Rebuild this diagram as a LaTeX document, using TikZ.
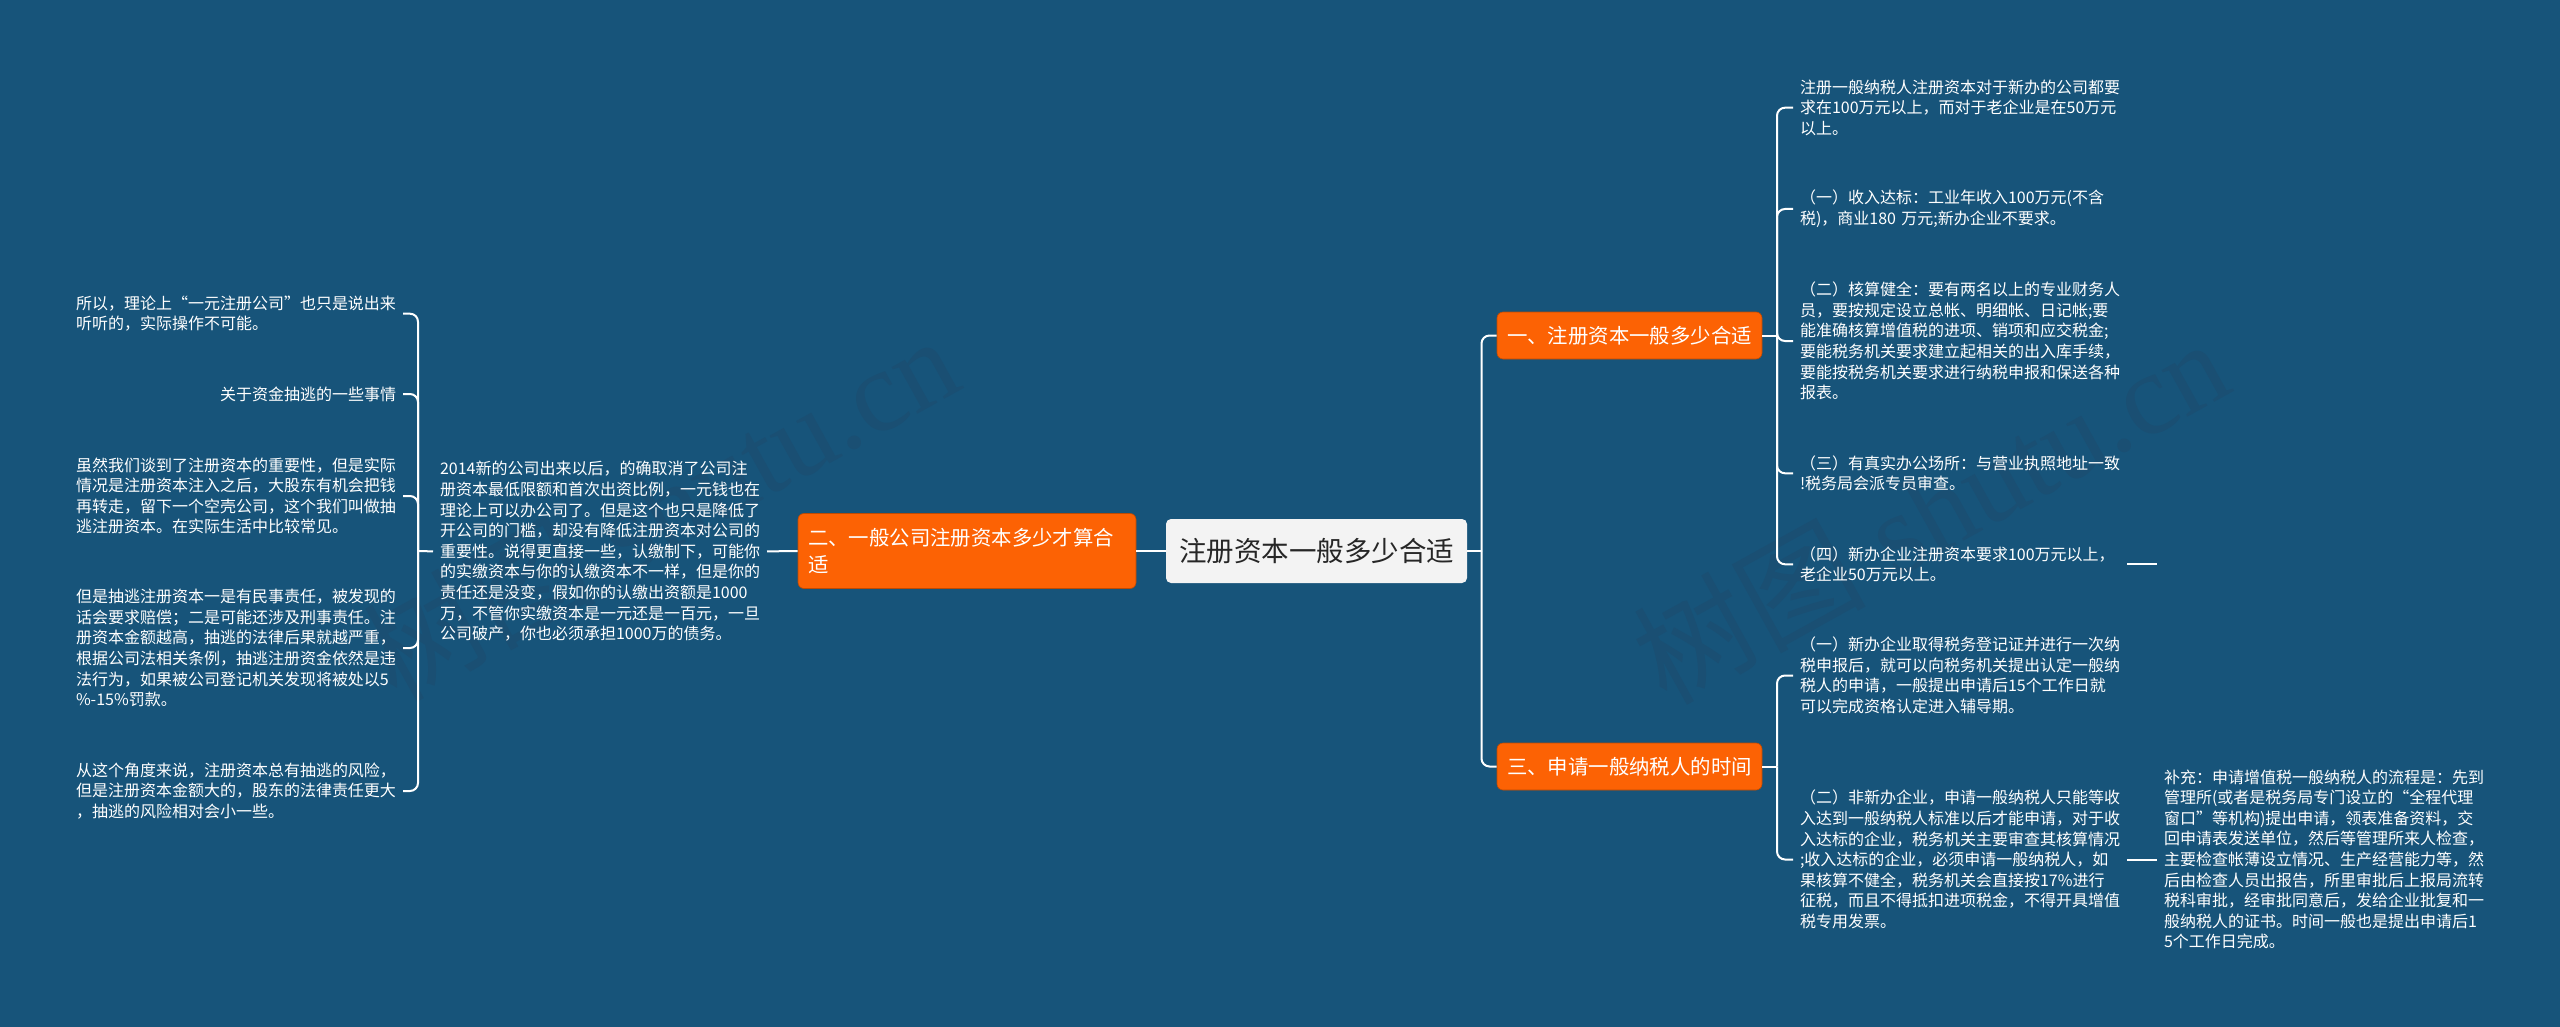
\documentclass[tikz,border=0pt]{standalone}
\usepackage{fontspec}
\usepackage{xcolor}
\usepackage{tikz}
\setmainfont{Noto Sans CJK SC}
\newfontfamily\markfont{Liberation Serif}
\newfontfamily\markcjk{Noto Sans CJK SC}
\definecolor{bgblue}{HTML}{17547A}
\definecolor{boxorange}{HTML}{FC6204}
\definecolor{rootgray}{HTML}{F3F3F3}
\definecolor{markblue}{HTML}{1A4F73}
\tikzset{>=latex}
\tikzstyle{link} = [-, draw=white, line width=2pt, rounded corners=8pt]
\tikzstyle{rootbox} = [rectangle, fill=rootgray, rounded corners=5pt, minimum width=301pt, minimum height=64pt, inner sep=0pt, text=black!85, font=\fontsize{27.5}{33}\selectfont]
\tikzstyle{headbox} = [rectangle, fill=boxorange, draw=boxorange!75!black, line width=0.6pt, rounded corners=6pt, text=white, inner sep=0pt, font=\fontsize{20.4}{26.4}\selectfont]
\tikzstyle{note} = [rectangle, inner sep=0pt, outer sep=7pt, text=white, text width=320pt, align=left, font=\fontsize{16}{20.6}\selectfont]
\tikzstyle{wmark} = [text=markblue, rotate=29, inner sep=0pt, font=\markfont\fontsize{116}{116}\selectfont]
\begin{document}
\begin{tikzpicture}[x=1pt, y=-1pt]
\useasboundingbox [fill=bgblue] (0, 0) rectangle (2560, 1027);
% watermarks
\node [wmark] (markleft) at (660, 507) {\markcjk 树图\markfont\ shutu.cn};
\node [wmark] (markright) at (1930, 510) {\markcjk 树图\markfont\ shutu.cn};
% centre and the three heads
\node [rootbox] (root) at (1316.5, 551) {注册资本一般多少合适};
\node [headbox, minimum width=338pt, minimum height=75pt, text width=318pt, align=left] (headtwo) at (967, 551) {二、一般公司注册资本多少才算合\\适};
\node [headbox, minimum width=265pt, minimum height=47pt] (headone) at (1629.5, 335.5) {一、注册资本一般多少合适};
\node [headbox, minimum width=265pt, minimum height=47pt] (headthree) at (1629.5, 766.5) {三、申请一般纳税人的时间};
% left side
\node [note] (mid) at (600, 551.4) {2014新的公司出来以后，的确取消了公司注\\册资本最低限额和首次出资比例，一元钱也在\\理论上可以办公司了。但是这个也只是降低了\\开公司的门槛，却没有降低注册资本对公司的\\重要性。说得更直接一些，认缴制下，可能你\\的实缴资本与你的认缴资本不一样，但是你的\\责任还是没变，假如你的认缴出资额是1000\\万，不管你实缴资本是一元还是一百元，一旦\\公司破产，你也必须承担1000万的债务。};
\node [note] (leftone) at (236, 313.7) {所以，理论上“一元注册公司”也只是说出来\\听听的，实际操作不可能。};
\node [note, align=right] (lefttwo) at (236, 394) {关于资金抽逃的一些事情};
\node [note] (leftthree) at (236, 496) {虽然我们谈到了注册资本的重要性，但是实际\\情况是注册资本注入之后，大股东有机会把钱\\再转走，留下一个空壳公司，这个我们叫做抽\\逃注册资本。在实际生活中比较常见。};
\node [note] (leftfour) at (236, 648) {但是抽逃注册资本一是有民事责任，被发现的\\话会要求赔偿；二是可能还涉及刑事责任。注\\册资本金额越高，抽逃的法律后果就越严重，\\根据公司法相关条例，抽逃注册资金依然是违\\法行为，如果被公司登记机关发现将被处以5\\\%-15\%罚款。};
\node [note] (leftfive) at (236, 791) {从这个角度来说，注册资本总有抽逃的风险，\\但是注册资本金额大的，股东的法律责任更大\\，抽逃的风险相对会小一些。};
% right side, upper group
\node [note] (upone) at (1960, 107.7) {注册一般纳税人注册资本对于新办的公司都要\\求在100万元以上，而对于老企业是在50万元\\以上。};
\node [note] (uptwo) at (1960, 209) {（一）收入达标：工业年收入100万元(不含\\税)，商业180 万元;新办企业不要求。};
\node [note] (upthree) at (1960, 341) {（二）核算健全：要有两名以上的专业财务人\\员，要按规定设立总帐、明细帐、日记帐;要\\能准确核算增值税的进项、销项和应交税金;\\要能税务机关要求建立起相关的出入库手续，\\要能按税务机关要求进行纳税申报和保送各种\\报表。};
\node [note] (upfour) at (1960, 473.3) {（三）有真实办公场所：与营业执照地址一致\\!税务局会派专员审查。};
\node [note] (upfive) at (1960, 564.3) {（四）新办企业注册资本要求100万元以上，\\老企业50万元以上。};
% right side, lower group
\node [note] (lowone) at (1960, 675.5) {（一）新办企业取得税务登记证并进行一次纳\\税申报后，就可以向税务机关提出认定一般纳\\税人的申请，一般提出申请后15个工作日就\\可以完成资格认定进入辅导期。};
\node [note] (lowtwo) at (1960, 859.5) {（二）非新办企业，申请一般纳税人只能等收\\入达到一般纳税人标准以后才能申请，对于收\\入达标的企业，税务机关主要审查其核算情况\\;收入达标的企业，必须申请一般纳税人，如\\果核算不健全，税务机关会直接按17\%进行\\征税，而且不得抵扣进项税金，不得开具增值\\税专用发票。};
\node [note] (extra) at (2324, 859.5) {补充：申请增值税一般纳税人的流程是：先到\\管理所(或者是税务局专门设立的“全程代理\\窗口”等机构)提出申请，领表准备资料，交\\回申请表发送单位，然后等管理所来人检查，\\主要检查帐薄设立情况、生产经营能力等，然\\后由检查人员出报告，所里审批后上报局流转\\税科审批，经审批同意后，发给企业批复和一\\般纳税人的证书。时间一般也是提出申请后1\\5个工作日完成。};
% forks and the free end
\coordinate (rootfork) at (1481.5, 551);
\coordinate (leftfork) at (418, 551);
\coordinate (upfork) at (1777, 335.5);
\coordinate (lowfork) at (1777, 766.5);
\coordinate (dangle) at (2157, 564.3);
% connectors
\draw [link] (root.west) to (headtwo.east);
\draw [link] (headtwo.west) to (mid.east);
\draw [link] (mid.west) to (leftfork);
\draw [link] (leftfork) |- (leftone.east);
\draw [link] (leftfork) |- (lefttwo.east);
\draw [link] (leftfork) |- (leftthree.east);
\draw [link] (leftfork) |- (leftfour.east);
\draw [link] (leftfork) |- (leftfive.east);
\draw [link] (root.east) to (rootfork);
\draw [link] (rootfork) |- (headone.west);
\draw [link] (rootfork) |- (headthree.west);
\draw [link] (headone.east) to (upfork);
\draw [link] (upfork) |- (upone.west);
\draw [link] (upfork) |- (uptwo.west);
\draw [link] (upfork) |- (upthree.west);
\draw [link] (upfork) |- (upfour.west);
\draw [link] (upfork) |- (upfive.west);
\draw [link] (upfive.east) to (dangle);
\draw [link] (headthree.east) to (lowfork);
\draw [link] (lowfork) |- (lowone.west);
\draw [link] (lowfork) |- (lowtwo.west);
\draw [link] (lowtwo.east) to (extra.west);
\end{tikzpicture}
\end{document}
